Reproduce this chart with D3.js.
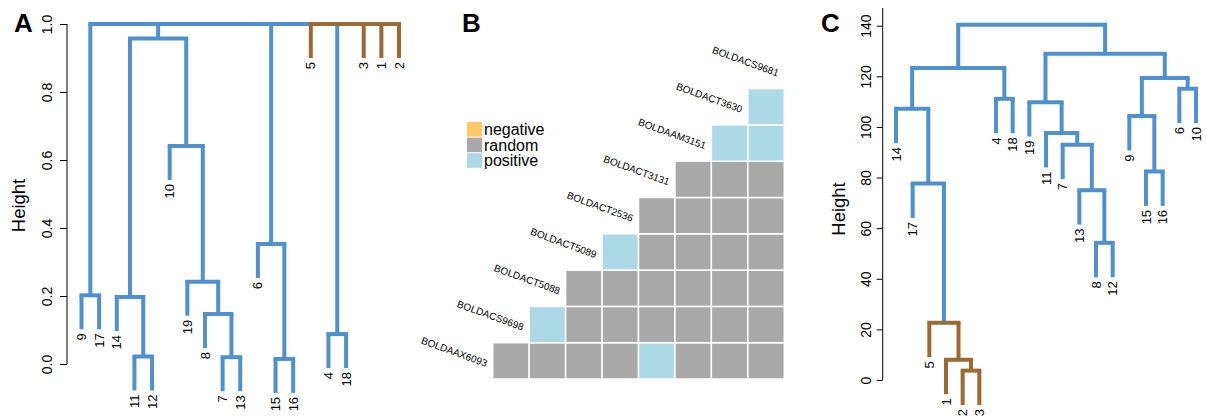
<!DOCTYPE html>
<html>
<head>
<meta charset="utf-8">
<script src="https://cdn.jsdelivr.net/npm/d3@7"></script>
<style>
  body { margin: 0; background: #fff; }
  svg { font-family: "Liberation Sans", Arial, sans-serif; }
</style>
</head>
<body>
<svg id="fig" width="1207" height="416"></svg>
<script>
// ---- data ----
// panel A: dendrogram (R hclust style merges: negative = leaf, positive = earlier merge)
const leafOrderA = [9, 17, 14, 11, 12, 10, 19, 8, 7, 13, 6, 15, 16, 5, 4, 18, 3, 1, 2];
const mergeA = [[-11, -12], [-15, -16], [-7, -13], [-4, -18], [-8, 3], [-14, 1], [-9, -17],
  [-19, 5], [-6, 2], [-10, 8], [6, 10], [7, 11, 9, -5, 4, -3, -1, -2]];
const heightA = [0.022, 0.015, 0.02, 0.088, 0.147, 0.197, 0.202, 0.242, 0.353, 0.641, 0.957, 1.0];
const ticksA = [0, 0.2, 0.4, 0.6, 0.8, 1.0];

// panel C: dendrogram
const leafOrderC = [14, 17, 5, 1, 2, 3, 4, 18, 19, 11, 7, 13, 8, 12, 9, 15, 16, 6, 10];
const mergeC = [[-2, -3], [-1, 1], [-5, 2], [-8, -12], [-13, 4], [-17, 3], [-15, -16], [-7, 5],
  [-11, 8], [-9, 7], [-14, 6], [-19, 9], [-4, -18], [-6, -10], [10, 14], [11, 13], [12, 15], [16, 17]];
const heightC = [3.7, 8.0, 22.6, 54.2, 75, 77.6, 82.4, 93, 97.6, 104.3, 107.2, 109.8, 111.1, 115.1,
  119.3, 123.3, 128.9, 140.4];
const ticksC = [0, 20, 40, 60, 80, 100, 120, 140];

// leaves of the second (brown) cluster
const clusterTwo = [1, 2, 3, 5];

// panel B: pairwise matrix, row r starts at column r
const seqLabels = ["BOLDAAX6093", "BOLDACS9698", "BOLDACT5088", "BOLDACT5089", "BOLDACT2536",
  "BOLDACT3131", "BOLDAAM3151", "BOLDACT3630", "BOLDACS9681"];
const pairRows = [
  ["random", "random", "random", "random", "positive", "random", "random", "random"],
  ["positive", "random", "random", "random", "random", "random", "random"],
  ["random", "random", "random", "random", "random", "random"],
  ["positive", "random", "random", "random", "random"],
  ["random", "random", "random", "random"],
  ["random", "random", "random"],
  ["positive", "positive"],
  ["positive"]
];
const legendKeys = ["negative", "random", "positive"];

const svg = d3.select("#fig");
const branchColor = d3.scaleOrdinal().domain([1, 2]).range(["#4F90CD", "#9B6A34"]);
const cellColor = d3.scaleOrdinal().domain(legendKeys).range(["#FFC966", "#A9A9A9", "#ADD8E6"]);

// build node objects from merges and compute x positions
function buildTree(merges, heights, xScale) {
  const nodes = [];
  const ref = r => r < 0
    ? { leaf: -r, x: xScale(-r), leaves: [-r] }
    : nodes[r - 1];
  merges.forEach((m, i) => {
    const children = m.map(ref);
    const xs = children.map(c => c.x);
    const leaves = children.flatMap(c => c.leaves);
    nodes.push({
      children, height: heights[i],
      x: (d3.min(xs) + d3.max(xs)) / 2,
      leaves,
      cluster: leaves.every(l => clusterTwo.includes(l)) ? 2 : 1
    });
  });
  return nodes;
}

function leafCluster(l) { return clusterTwo.includes(l) ? 2 : 1; }

function drawDendrogram(g, nodes, yScale, hang) {
  const vert = g.append("g"), horiz = g.append("g"), labels = g.append("g");
  nodes.forEach(node => {
    const yN = yScale(node.height);
    node.children.forEach(c => {
      const isLeaf = c.leaf !== undefined;
      const yEnd = isLeaf ? yScale(node.height - hang) : yScale(c.height);
      vert.append("line")
        .attr("x1", c.x).attr("x2", c.x)
        .attr("y1", yN).attr("y2", yEnd)
        .attr("stroke", branchColor(isLeaf ? leafCluster(c.leaf) : node.cluster))
        .attr("stroke-width", 4);
      if (isLeaf) {
        labels.append("text")
          .attr("transform", `translate(${c.x},${yEnd + 4}) rotate(-90)`)
          .attr("text-anchor", "end")
          .attr("dy", "0.35em")
          .style("font-size", "13px")
          .text(c.leaf);
      }
    });
    const xs = node.children.map(c => c.x);
    horiz.append("line")
      .attr("x1", d3.min(xs) - 2).attr("x2", d3.max(xs) + 2)
      .attr("y1", yN).attr("y2", yN)
      .attr("stroke", branchColor(node.cluster))
      .attr("stroke-width", 4);
    // leaves of another cluster hanging from this node get their own span
    const other = node.children.filter(c => c.leaf !== undefined && leafCluster(c.leaf) !== node.cluster);
    if (other.length > 1) {
      horiz.append("line")
        .attr("x1", d3.min(other, c => c.x) - 2).attr("x2", d3.max(other, c => c.x) + 2)
        .attr("y1", yN).attr("y2", yN)
        .attr("stroke", branchColor(leafCluster(other[0].leaf)))
        .attr("stroke-width", 4);
    }
  });
}

function drawAxis(g, yScale, ticks, fmt, axisX, tickLen, labelGap, lineTop) {
  const ax = g.append("g")
    .attr("transform", `translate(${axisX},0)`)
    .call(d3.axisLeft(yScale).tickValues(ticks).tickFormat(fmt).tickSize(tickLen).tickSizeOuter(0));
  ax.select(".domain").remove();
  ax.append("line")
    .attr("y1", yScale(0)).attr("y2", lineTop)
    .attr("stroke", "#000");
  ax.selectAll(".tick line").attr("stroke", "#000");
  ax.selectAll(".tick text")
    .attr("x", 0).attr("dy", 0)
    .attr("transform", `translate(${-labelGap},0) rotate(-90)`)
    .attr("text-anchor", "middle")
    .attr("fill", "#000")
    .style("font-size", "14px")
    .style("font-family", "Liberation Sans, Arial, sans-serif");
}

// ---- panel A ----
const gA = svg.append("g");
const xA = d3.scalePoint().domain(leafOrderA).range([81.5, 399]);
const yA = d3.scaleLinear().domain([0, 1]).range([364, 24]);
drawAxis(gA, yA, ticksA, d3.format(".1f"), 67, 7, 15, yA(1));
drawDendrogram(gA, buildTree(mergeA, heightA, xA), yA, 0.1);
gA.append("text")
  .attr("transform", "translate(25,205.5) rotate(-90)")
  .attr("text-anchor", "middle")
  .style("font-size", "18.5px")
  .text("Height");
gA.append("text").attr("x", 14).attr("y", 32)
  .style("font-size", "26px").style("font-weight", "bold").text("A");

// ---- panel C ----
const gC = svg.append("g");
const xC = d3.scalePoint().domain(leafOrderC).range([896, 1196]);
const yC = d3.scaleLinear().domain([0, 140]).range([380, 25.7]);
drawAxis(gC, yC, ticksC, d3.format("d"), 882.7, 6, 12, yC(147));
drawDendrogram(gC, buildTree(mergeC, heightC, xC), yC, 13.6);
gC.append("text")
  .attr("transform", "translate(845,209) rotate(-90)")
  .attr("text-anchor", "middle")
  .style("font-size", "18.5px")
  .text("Height");
gC.append("text").attr("x", 821).attr("y", 32)
  .style("font-size", "26px").style("font-weight", "bold").text("C");

// ---- panel B ----
const gB = svg.append("g");
const nCols = pairRows.length;
const xB = d3.scaleBand().domain(d3.range(nCols)).range([492.7, 784.3]);
// row 0 sits at the bottom
const rowH = (379 - 88.6) / nCols;
const rowY = r => 379 - (r + 1) * rowH;

const cells = pairRows.flatMap((row, r) => row.map((v, i) => ({ r, c: r + i, v })));
gB.selectAll("rect.cell")
  .data(cells)
  .enter().append("rect")
  .attr("class", "cell")
  .attr("x", d => xB(d.c))
  .attr("y", d => rowY(d.r))
  .attr("width", xB.bandwidth())
  .attr("height", rowH)
  .attr("fill", d => cellColor(d.v))
  .attr("stroke", "#fff")
  .attr("stroke-width", 1.5);

// diagonal sequence labels
gB.selectAll("text.seq")
  .data(seqLabels)
  .enter().append("text")
  .attr("class", "seq")
  .attr("transform", (d, i) => `translate(${492.7 + i * xB.step() - 7},${379 - i * rowH - 12}) rotate(20)`)
  .attr("text-anchor", "end")
  .style("font-size", "10px")
  .text(d => d);

// legend
const legend = gB.selectAll(".legend")
  .data(legendKeys)
  .enter().append("g")
  .attr("class", "legend")
  .attr("transform", (d, i) => `translate(467,${122 + i * 15.6})`);
legend.append("rect")
  .attr("width", 15).attr("height", 14.6)
  .attr("fill", d => cellColor(d));
legend.append("text")
  .attr("x", 17).attr("y", 13.2)
  .style("font-size", "16px")
  .text(d => d);

gB.append("text").attr("x", 462).attr("y", 32)
  .style("font-size", "26px").style("font-weight", "bold").text("B");
</script>
</body>
</html>
